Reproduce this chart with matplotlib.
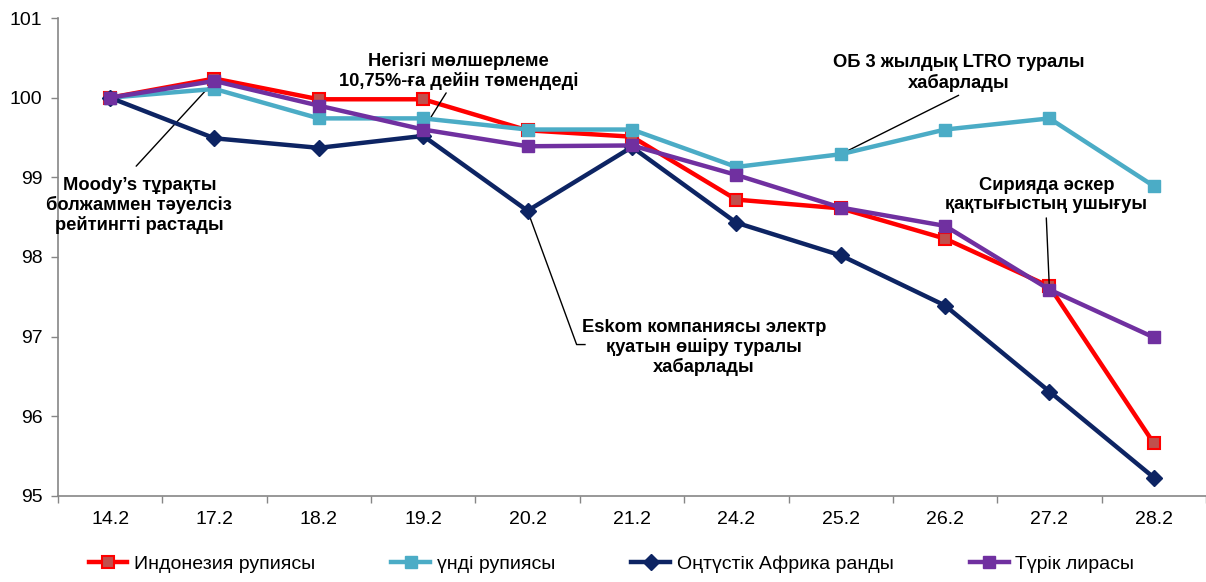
"""
plot.py — Emerging-market currencies vs USD, index 14.2 = 100.
"""

import matplotlib
matplotlib.use("Agg")
import matplotlib.pyplot as plt

plt.rcParams["font.family"] = ["Liberation Sans", "DejaVu Sans"]

# ── Data ──────────────────────────────────────────────────────
dates = ["14.2", "17.2", "18.2", "19.2", "20.2", "21.2",
         "24.2", "25.2", "26.2", "27.2", "28.2"]

indonesia = [100.0, 100.24, 99.98, 99.98, 99.59, 99.51,
             98.72, 98.61, 98.23, 97.63, 95.66]
india = [100.0, 100.11, 99.74, 99.74, 99.60, 99.60,
         99.13, 99.29, 99.60, 99.74, 98.89]
south_africa = [100.0, 99.49, 99.37, 99.52, 98.58, 99.38,
                98.43, 98.02, 97.39, 96.31, 95.23]
turkey = [100.0, 100.21, 99.90, 99.60, 99.39, 99.40,
          99.03, 98.62, 98.39, 97.59, 96.99]

labels = ["Индонезия рупиясы", "үнді рупиясы",
          "Оңтүстік Африка ранды", "Түрік лирасы"]
y_ticks = [95, 96, 97, 98, 99, 100, 101]

# ── Figure ────────────────────────────────────────────────────
fig = plt.figure(figsize=(12.06, 5.82), dpi=100)
ax = fig.add_axes([0.048, 0.148, 0.952, 0.821])

x = range(len(dates))
lw = 3.2
ms = 8.5
ax.plot(x, indonesia, color="#FF0000", lw=lw, marker="s", ms=ms,
        mfc="#C0504D", mec="#FF0000", mew=1.5, label=labels[0], zorder=3)
ax.plot(x, india, color="#4BACC6", lw=lw, marker="s", ms=ms,
        mfc="#4BACC6", mec="#4BACC6", label=labels[1], zorder=4)
ax.plot(x, south_africa, color="#0D2463", lw=lw, marker="D", ms=ms,
        mfc="#0D2463", mec="#0D2463", label=labels[2], zorder=5)
ax.plot(x, turkey, color="#7030A0", lw=lw, marker="s", ms=ms,
        mfc="#7030A0", mec="#7030A0", label=labels[3], zorder=6)

# ── Axes styling ──────────────────────────────────────────────
ax.set_xlim(-0.5, len(dates) - 0.5)
ax.set_ylim(95, 101)
ax.set_yticks(y_ticks)
ax.set_xticks(list(x))
ax.set_xticklabels(dates)
ax.set_xticks([i + 0.5 for i in range(-1, len(dates))], minor=True)
ax.tick_params(axis="x", which="major", length=0, pad=11, labelsize=14)
ax.tick_params(axis="x", which="minor", length=5, color="#868686", width=1)
ax.tick_params(axis="y", length=5, color="#868686", width=1, labelsize=14, pad=6)

for side in ("top", "right"):
    ax.spines[side].set_visible(False)
for side in ("left", "bottom"):
    ax.spines[side].set_color("#868686")
    ax.spines[side].set_linewidth(1.2)

# ── Annotations ───────────────────────────────────────────────
txt = dict(fontsize=13.2, fontweight="bold", ha="center", va="center",
           linespacing=1.15, zorder=10)
line = dict(arrowstyle="-", color="black", lw=1, shrinkA=0, shrinkB=0)

ax.text(0.28, 98.65, "Moody’s тұрақты\nболжаммен тәуелсіз\nрейтингті растады", **txt)
ax.annotate("", xy=(1, turkey[1]), xytext=(0.25, 99.14), arrowprops=line)

ax.text(3.34, 100.33, "Негізгі мөлшерлеме\n10,75%-ға дейін төмендеді", **txt)
ax.annotate("", xy=(3, turkey[3]), xytext=(3.22, 100.06), arrowprops=line)

ax.text(8.13, 100.31, "ОБ 3 жылдық LTRO туралы\nхабарлады", **txt)
ax.annotate("", xy=(7, india[7]), xytext=(8.13, 100.03), arrowprops=line)

ax.text(8.97, 98.78, "Сирияда әскер\nқақтығыстың ушығуы", **txt)
ax.annotate("", xy=(9, turkey[9]), xytext=(8.97, 98.49), arrowprops=line)

ax.text(5.69, 96.86, "Eskom компаниясы электр\nқуатын өшіру туралы\nхабарлады", **txt)
ax.plot([4, 4.47, 4.55], [south_africa[4], 96.90, 96.90], color="black", lw=1, zorder=2)

# ── Legend ────────────────────────────────────────────────────
fig.legend(loc="lower center", bbox_to_anchor=(0.507, -0.015), ncol=4,
           frameon=False, fontsize=14, handlelength=2.0, columnspacing=3.9,
           handletextpad=0.35)

fig.savefig("out.png", dpi=100)
